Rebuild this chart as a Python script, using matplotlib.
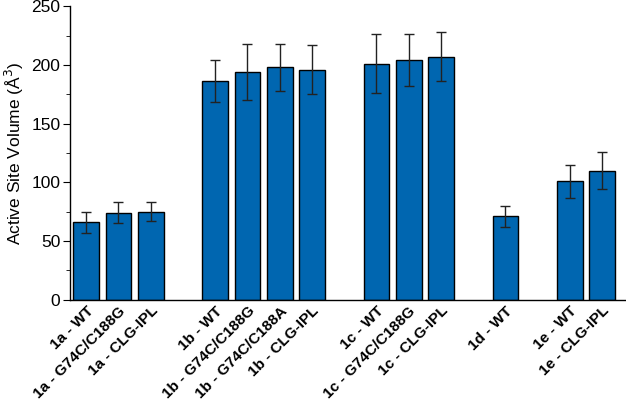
import numpy as np
import matplotlib
matplotlib.use("Agg")
import matplotlib.pyplot as plt
from matplotlib.ticker import MultipleLocator

plt.rcParams["font.family"] = ["Liberation Sans", "DejaVu Sans"]

# ── data ──────────────────────────────────────────────────────────────────────
LABELS = [
    "1a - WT", "1a - G74C/C188G", "1a - CLG-IPL",
    "1b - WT", "1b - G74C/C188G", "1b - G74C/C188A", "1b - CLG-IPL",
    "1c - WT", "1c - G74C/C188G", "1c - CLG-IPL",
    "1d - WT",
    "1e - WT", "1e - CLG-IPL",
]
VOLUME = [66, 74, 75, 186, 194, 198, 196, 201, 204, 207, 71, 101, 110]
ERROR = [9, 9, 8, 18, 24, 20, 21, 25, 22, 21, 9, 14, 16]
GROUP_SIZES = [3, 4, 3, 1, 2]

# positions: one empty slot between groups
pos = []
x = 0
for n in GROUP_SIZES:
    pos.extend(range(x, x + n))
    x += n + 1
pos = np.array(pos)

fig = plt.figure(figsize=(6.26, 4.09), dpi=100)
ax = fig.add_axes([0.112, 0.267, 0.888, 0.718])

ax.bar(pos, VOLUME, width=0.8, color="#0066b0", edgecolor="black",
       linewidth=1.0, zorder=2)
ax.errorbar(pos, VOLUME, yerr=ERROR, fmt="none", ecolor="#222222",
            elinewidth=1.0, capsize=3.5, capthick=1.0, zorder=3)

ax.set_xlim(-0.5, 16.74)
ax.set_ylim(0, 250)
ax.yaxis.set_major_locator(MultipleLocator(50))
ax.yaxis.set_minor_locator(MultipleLocator(25))
ax.tick_params(axis="y", which="major", direction="out", length=5,
               labelsize=12.5, pad=2)
ax.tick_params(axis="y", which="minor", direction="out", length=3)
ax.tick_params(axis="x", length=0, pad=3)

ax.set_xticks(pos)
ax.set_xticklabels(LABELS, rotation=45, ha="right", rotation_mode="anchor",
                   fontsize=11, fontweight="bold")

ax.set_ylabel("Active Site Volume (Å$^3$)", fontsize=12.5, labelpad=4)

ax.spines[["top", "right"]].set_visible(False)
ax.spines["left"].set_linewidth(1.0)
ax.spines["bottom"].set_linewidth(1.0)

fig.savefig("out.png", dpi=100)
